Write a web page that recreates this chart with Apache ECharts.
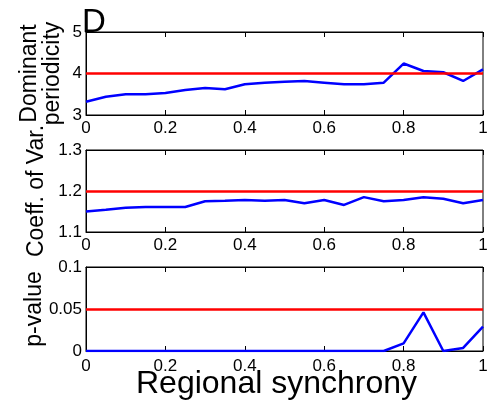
<!DOCTYPE html>
<html>
<head>
<meta charset="utf-8">
<script src="https://cdn.jsdelivr.net/npm/echarts@6/dist/echarts.min.js"></script>
<style>html,body{margin:0;padding:0;background:#fff;}#c{width:503px;height:402px;}</style>
</head>
<body>
<div id="c"></div>
<script>
const xs = [0,0.05,0.1,0.15,0.2,0.25,0.3,0.35,0.4,0.45,0.5,0.55,0.6,0.65,0.7,0.75,0.8,0.85,0.9,0.95,1.0];
const periodicity = [3.32,3.44,3.50,3.50,3.53,3.60,3.65,3.62,3.74,3.78,3.80,3.82,3.78,3.74,3.74,3.78,4.24,4.06,4.03,3.82,4.10];
const coeffVar = [1.150,1.154,1.159,1.161,1.161,1.161,1.175,1.176,1.178,1.176,1.178,1.170,1.178,1.166,1.185,1.175,1.178,1.185,1.181,1.170,1.178];
const pValue = [0,0,0,0,0,0,0,0,0,0,0,0,0,0,0,0,0.009,0.046,0,0.0036,0.029];
const thresholds = [4, 1.2, 0.05];
const yRanges = [[3,5,1],[1.1,1.3,0.1],[0,0.1,0.05]];
const yNames = ['Dominant\nperiodicity', 'Coeff. of Var.', 'p-value'];
const xName = 'Regional synchrony';
const panelLabel = 'D';
const seriesData = [periodicity, coeffVar, pValue];

const font = 'Liberation Sans, Arial, sans-serif';
const grids = [
  {left:86, right:20, top:32, height:83},
  {left:86, right:20, top:150, height:82},
  {left:86, right:20, top:267, height:84}
].map(g => Object.assign(g, {show:true, borderColor:'#000', borderWidth:1, backgroundColor:'#fff', containLabel:false, outerBoundsMode:'none'}));

const yNameGaps = [22, 38, 40];

const xAxes = [], yAxes = [], series = [];
for (let i = 0; i < 3; i++) {
  xAxes.push({
    type:'value', gridIndex:i, min:0, max:1, interval:0.2, position:'bottom',
    axisLine:{show:true, lineStyle:{color:'#000', width:1}},
    axisTick:{show:true, inside:true, length:5, lineStyle:{color:'#000'}},
    splitLine:{show:false},
    axisLabel:{color:'#000', fontSize:17, fontFamily:font, margin:i === 2 ? 7 : 5, formatter: v => String(+v.toFixed(2))},
    name: i === 2 ? xName : '', nameLocation:'middle', nameGap:17, nameMoveOverlap:false,
    nameTextStyle:{color:'#000', fontSize:32, fontFamily:font, verticalAlign:'top', padding:[0,16,0,0]}
  });
  xAxes.push({
    type:'value', gridIndex:i, min:0, max:1, interval:0.2, position:'top',
    axisLine:{show:true, lineStyle:{color:'#000', width:1}},
    axisTick:{show:true, inside:true, length:5, lineStyle:{color:'#000'}},
    splitLine:{show:false}, axisLabel:{show:false}
  });
  const r = yRanges[i];
  yAxes.push({
    type:'value', gridIndex:i, min:r[0], max:r[1], interval:r[2],
    axisLine:{show:true, lineStyle:{color:'#000', width:1}},
    axisTick:{show:false}, splitLine:{show:false},
    axisLabel:{color:'#000', fontSize:17, fontFamily:font, margin:4, formatter: v => String(+v.toFixed(3))},
    name: yNames[i], nameLocation:'middle', nameRotate:90, nameGap: yNameGaps[i], nameMoveOverlap:false,
    nameTextStyle:{color:'#000', fontSize:23, fontFamily:font, lineHeight:23}
  });
  series.push({
    type:'line', xAxisIndex:2*i, yAxisIndex:i,
    data: xs.map((x,k) => [x, seriesData[i][k]]),
    symbol:'none', lineStyle:{color:'#0000ff', width:2.5}, z:3,
    markLine:{silent:true, symbol:'none', label:{show:false},
      lineStyle:{color:'#ff0000', width:2.5, type:'solid'},
      data:[{yAxis: thresholds[i]}], z:4}
  });
}

const chart = echarts.init(document.getElementById('c'), null, {renderer:'canvas'});
chart.setOption({
  animation:false,
  backgroundColor:'#fff',
  title:{text:panelLabel, left:82, top:6, padding:0, textStyle:{color:'#000', fontSize:33, fontWeight:'normal', fontFamily:font}},
  grid: grids, xAxis: xAxes, yAxis: yAxes, series: series
});
</script>
</body>
</html>
